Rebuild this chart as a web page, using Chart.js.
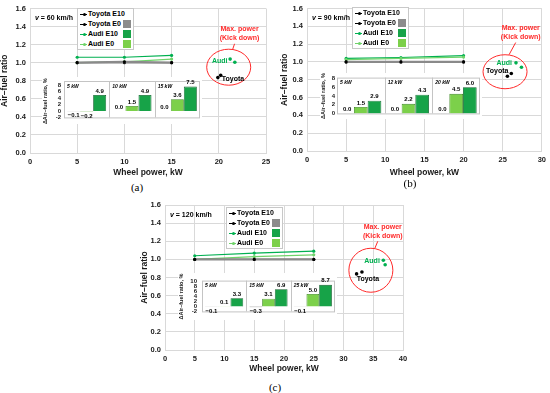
<!DOCTYPE html>
<html>
<head>
<meta charset="utf-8">
<script src="https://cdn.jsdelivr.net/npm/chart.js@4.4.1/dist/chart.umd.min.js"></script>
<style>
  body { margin: 0; background: #fff; }
  #fig { position: relative; width: 550px; height: 393px; overflow: hidden; font-family: 'Liberation Sans', Arial, sans-serif; }
  .c { position: absolute; }
  .cap { position: absolute; transform: translate(-50%, -50%); font-family: 'Liberation Serif', 'DejaVu Serif', serif; font-size: 11px; }
  .leg { position: absolute; width: 55px; height: 40px; background: #fff; border: 1px solid #c8c8c8; font-weight: bold; font-size: 7px; }
  .leg .row { position: absolute; left: 0; height: 10px; width: 100%; }
  .leg .ln { position: absolute; left: 2px; top: 4.5px; width: 7px; height: 1px; }
  .leg .dot { position: absolute; left: 4.5px; top: 3.5px; width: 3px; height: 3px; border-radius: 50%; }
  .leg .tx { position: absolute; left: 10px; top: 0; line-height: 10px; white-space: nowrap; }
  .leg .sq { position: absolute; left: 45px; top: 1px; width: 8px; height: 8px; box-sizing: border-box; }
</style>
</head>
<body>
<div id="fig">
  <canvas id="mainA" class="c" width="275" height="180" style="left:0;top:0"></canvas>
  <canvas id="mainB" class="c" width="270" height="180" style="left:280px;top:0"></canvas>
  <canvas id="mainC" class="c" width="280" height="181" style="left:140px;top:195px"></canvas>
  <canvas id="insetA" class="c" width="160" height="47" style="left:42px;top:77px"></canvas>
  <canvas id="insetB" class="c" width="162" height="46" style="left:320px;top:73px"></canvas>
  <canvas id="insetC" class="c" width="159" height="47" style="left:178px;top:273px"></canvas>
  <div class="cap" style="left:137px;top:187px">(a)</div>
  <div class="cap" style="left:410px;top:183px">(b)</div>
  <div class="cap" style="left:275px;top:387px">(c)</div>
</div>
<script>
Chart.defaults.font.family = "'Liberation Sans', Arial, sans-serif";
Chart.defaults.color = '#1a1a1a';
Chart.defaults.animation = false;

// --- (a) v = 60 km/h ---
const powerA = [5, 10, 15];
const toyotaE10A = [1.00, 1.00, 1.00];
const toyotaE0A = [1.00, 1.01, 1.00];
const audiE10A = [1.06, 1.06, 1.08];
const audiE0A = [1.00, 1.01, 1.04];
const kickToyotaA = [[19.9, 0.835], [20.2, 0.86]];
const kickAudiA = [[21.2, 1.04], [21.7, 1.005]];
const stepsA = ['5 kW', '10 kW', '15 kW'];
const dToyotaA = [-0.1, 0.0, 0.0];
const dAudiE0A = [-0.2, 1.5, 3.6];
const dAudiE10A = [4.9, 4.9, 7.5];

// --- (b) v = 90 km/h ---
const powerB = [5, 12, 20];
const toyotaE10B = [1.00, 1.00, 1.00];
const toyotaE0B = [1.00, 1.00, 1.00];
const audiE10B = [1.04, 1.05, 1.07];
const audiE0B = [1.025, 1.04, 1.055];
const kickToyotaB = [[25.6, 0.84], [26.1, 0.87]];
const kickAudiB = [[26.7, 0.99], [27.4, 0.94]];
const stepsB = ['5 kW', '12 kW', '20 kW'];
const dToyotaB = [0.0, 0.0, 0.0];
const dAudiE0B = [1.5, 2.2, 4.5];
const dAudiE10B = [2.9, 4.3, 6.0];

// --- (c) v = 120 km/h ---
const powerC = [5, 15, 25];
const toyotaE10C = [1.00, 1.00, 1.00];
const toyotaE0C = [1.00, 1.00, 1.00];
const audiE10C = [1.04, 1.07, 1.09];
const audiE0C = [1.00, 1.03, 1.05];
const kickToyotaC = [[32.2, 0.84], [33.1, 0.86]];
const kickAudiC = [[36.7, 0.99], [37.0, 0.94]];
const stepsC = ['5 kW', '15 kW', '25 kW'];
const dToyotaC = [-0.1, -0.3, -0.1];
const dAudiE0C = [0.1, 3.1, 5.0];
const dAudiE10C = [3.3, 6.9, 8.7];

const COL = {
  toyota: '#000000', toyotaE0: '#8a8a8a',
  audiE10: '#00b050', audiE0: '#6fd36a',
  barGray: '#8c8c8c', barLight: '#7cd04a', barDark: '#17a348', red: '#ff2a2a'
};

const xy = (xs, ys) => xs.map((v, i) => ({ x: v, y: ys[i] }));
const pts = arr => arr.map(p => ({ x: p[0], y: p[1] }));

const whiteBg = {
  id: 'whiteBg',
  beforeDraw(chart) {
    const ctx = chart.ctx;
    ctx.save(); ctx.fillStyle = '#fff'; ctx.fillRect(0, 0, chart.width, chart.height); ctx.restore();
  }
};

// ellipse round the kick-down points + texts
const kickPlugin = {
  id: 'kick',
  afterDraw(chart, args, o) {
    if (!o.ellipse) return;
    const { ctx, chartArea, scales: { x, y } } = chart;
    ctx.save();
    const ex = x.getPixelForValue(o.ellipse.x), ey = y.getPixelForValue(o.ellipse.y);
    ctx.strokeStyle = COL.red; ctx.lineWidth = 1;
    ctx.beginPath(); ctx.ellipse(ex, ey, o.ellipse.rx, o.ellipse.ry, 0, 0, Math.PI * 2); ctx.stroke();

    const nx = x.getPixelForValue(o.note.x), ny = y.getPixelForValue(o.note.y);
    ctx.fillStyle = COL.red; ctx.font = "bold 7px 'Liberation Sans'";
    ctx.textAlign = 'center'; ctx.textBaseline = 'middle';
    ctx.fillText('Max. power', nx, ny - 4.5);
    ctx.fillText('(Kick down)', nx, ny + 4.5);
    ctx.beginPath(); ctx.moveTo(nx - 5, ny + 10); ctx.lineTo(ex + 4, ey - o.ellipse.ry); ctx.stroke();

    ctx.font = "bold 7px 'Liberation Sans'";
    ctx.fillStyle = COL.audiE10;
    ctx.fillText('Audi', x.getPixelForValue(o.audi.x), y.getPixelForValue(o.audi.y));
    ctx.fillStyle = '#000';
    ctx.fillText('Toyota', x.getPixelForValue(o.toyota.x), y.getPixelForValue(o.toyota.y));

    ctx.textAlign = 'left';
    let sx = chartArea.left + 5;
    const sy = chartArea.top + 10;
    ctx.font = "italic bold 7px 'Liberation Sans'";
    ctx.fillText('v', sx, sy);
    sx += ctx.measureText('v').width;
    ctx.font = "bold 7px 'Liberation Sans'";
    ctx.fillText(' = ' + o.speed + ' km/h', sx, sy);
    ctx.restore();
  }
};

// panel boxes, panel names and bar values of the inset
const panelPlugin = {
  id: 'panels',
  beforeDatasetsDraw(chart, args, o) {
    const { ctx, chartArea: a } = chart;
    const labels = chart.data.labels;
    const w = (a.right - a.left) / labels.length;
    const top = a.top - (o.gap || 0);
    ctx.save();
    ctx.strokeStyle = '#c4c4c4'; ctx.lineWidth = 1;
    ctx.strokeRect(a.left + 0.5, top + 0.5, a.right - a.left - 1, a.bottom - top);
    ctx.beginPath();
    for (let i = 1; i < labels.length; i++) {
      const px = Math.round(a.left + i * w) + 0.5;
      ctx.moveTo(px, top); ctx.lineTo(px, a.bottom);
    }
    ctx.stroke();
    ctx.fillStyle = '#000'; ctx.font = "italic bold 5px 'Liberation Sans'";
    ctx.textAlign = 'left'; ctx.textBaseline = 'top';
    labels.forEach((l, i) => ctx.fillText(l, a.left + i * w + 3, top + 3));
    ctx.restore();
  },
  afterDatasetsDraw(chart) {
    const ctx = chart.ctx;
    ctx.save();
    ctx.fillStyle = '#000'; ctx.font = "bold 6px 'Liberation Sans'"; ctx.textAlign = 'center';
    chart.data.datasets.forEach((ds, di) => {
      chart.getDatasetMeta(di).data.forEach((bar, i) => {
        const v = ds.data[i];
        const txt = (v < 0 ? '−' : '') + Math.abs(v).toFixed(1);
        if (v < 0) { ctx.textBaseline = 'top'; ctx.fillText(txt, bar.x, bar.y + 1.5); }
        else { ctx.textBaseline = 'bottom'; ctx.fillText(txt, bar.x, bar.y - 1); }
      });
    });
    ctx.restore();
  }
};

function mainChart(id, c) {
  const lineDs = (label, data, color, width, ptColor) => ({
    label, data, borderColor: color, borderWidth: width, backgroundColor: ptColor,
    pointRadius: 1.6, pointBackgroundColor: ptColor, pointBorderWidth: 0
  });
  return new Chart(document.getElementById(id), {
    type: 'line',
    data: {
      datasets: [
        lineDs('Toyota E0', xy(c.power, c.toyotaE0), COL.toyotaE0, 2.2, '#000'),
        lineDs('Toyota E10', xy(c.power, c.toyotaE10), COL.toyota, 1, '#000'),
        lineDs('Audi E0', xy(c.power, c.audiE0), COL.audiE0, 1.2, COL.audiE0),
        lineDs('Audi E10', xy(c.power, c.audiE10), COL.audiE10, 1.2, COL.audiE10),
        { type: 'scatter', label: 'Toyota kick', data: pts(c.kickToyota), pointRadius: 1.8, pointBackgroundColor: '#000', pointBorderWidth: 0, showLine: false },
        { type: 'scatter', label: 'Audi kick', data: pts(c.kickAudi), pointRadius: 1.8, pointBackgroundColor: COL.audiE10, pointBorderWidth: 0, showLine: false }
      ]
    },
    options: {
      responsive: false,
      layout: { padding: { top: c.padTop, right: c.padRight, left: 0, bottom: 0 } },
      plugins: { legend: { display: false }, tooltip: { enabled: false }, kick: c.kick },
      scales: {
        x: {
          type: 'linear', min: 0, max: c.xMax,
          ticks: { stepSize: 5, font: { size: 7.5, weight: 'bold' }, padding: 4 },
          grid: { color: '#d9d9d9', drawTicks: false }, border: { color: '#d9d9d9' },
          title: { display: true, text: 'Wheel power, kW', font: { size: 8.5, weight: 'bold' }, padding: { top: 0, bottom: 2 } },
          afterFit: s => { s.height = c.xH; }
        },
        y: {
          min: 0, max: 1.6,
          ticks: { stepSize: 0.2, callback: v => v.toFixed(1), font: { size: 7.5, weight: 'bold' }, padding: 4 },
          grid: { color: '#d9d9d9', drawTicks: false }, border: { color: '#d9d9d9' },
          title: { display: true, text: 'Air–fuel ratio', font: { size: 8.5, weight: 'bold' }, padding: { top: 0, bottom: 0 } },
          afterFit: s => { s.width = c.yW; }
        }
      }
    },
    plugins: [whiteBg, kickPlugin]
  });
}

function insetChart(id, c) {
  const barDs = (label, data, bg, bd) => ({ label, data, backgroundColor: bg, borderColor: bd, borderWidth: 0.8 });
  const h = document.getElementById(id).height;
  return new Chart(document.getElementById(id), {
    type: 'bar',
    data: {
      labels: c.steps,
      datasets: [
        barDs('Toyota', c.dToyota, COL.barGray, '#5a5a5a'),
        barDs('Audi E0', c.dAudiE0, COL.barLight, '#3f8a25'),
        barDs('Audi E10', c.dAudiE10, COL.barDark, '#0b5e28')
      ]
    },
    options: {
      responsive: false,
      layout: { padding: { top: c.padTop, right: 2, left: 0, bottom: h - c.bottom } },
      datasets: { bar: { categoryPercentage: 0.86, barPercentage: 1.0 } },
      plugins: { legend: { display: false }, tooltip: { enabled: false }, panels: { gap: c.gap } },
      scales: {
        x: { ticks: { display: false }, grid: { display: false, drawTicks: false }, border: { display: false } },
        y: {
          min: c.yMin, max: c.yMax,
          ticks: { stepSize: 2, autoSkip: false, font: { size: 6, weight: 'bold' }, padding: c.tickPad },
          grid: { display: false, drawTicks: false }, border: { display: false },
          title: { display: true, text: 'ΔAir–fuel ratio, %', font: { size: 5.5, weight: 'bold' }, padding: { top: 0, bottom: 0 } },
          afterFit: s => { s.width = c.yW; }
        }
      }
    },
    plugins: [whiteBg, panelPlugin]
  });
}

function legend(left, top) {
  const rows = [
    ['Toyota E10', COL.toyota, '#000', null],
    ['Toyota E0', COL.toyota, '#000', COL.barGray],
    ['Audi E10', COL.audiE10, COL.audiE10, COL.barDark],
    ['Audi E0', COL.audiE0, COL.audiE0, COL.barLight]
  ];
  const box = document.createElement('div');
  box.className = 'leg';
  box.style.left = left + 'px'; box.style.top = top + 'px';
  rows.forEach((r, i) => {
    box.insertAdjacentHTML('beforeend',
      `<div class="row" style="top:${i * 10}px">
        <div class="ln" style="background:${r[1]}"></div>
        <div class="dot" style="background:${r[2]}"></div>
        <div class="tx">${r[0]}</div>
        ${r[3] ? `<div class="sq" style="background:${r[3]}"></div>` : ''}
      </div>`);
  });
  document.getElementById('fig').appendChild(box);
}

mainChart('mainA', {
  power: powerA, toyotaE10: toyotaE10A, toyotaE0: toyotaE0A, audiE10: audiE10A, audiE0: audiE0A,
  kickToyota: kickToyotaA, kickAudi: kickAudiA, xMax: 25, yW: 30, xH: 27, padTop: 6, padRight: 9,
  kick: { speed: '60', ellipse: { x: 21.05, y: 0.95, rx: 22, ry: 18 }, note: { x: 22.2, y: 1.32 },
          audi: { x: 20.1, y: 1.02 }, toyota: { x: 21.5, y: 0.82 } }
});
mainChart('mainB', {
  power: powerB, toyotaE10: toyotaE10B, toyotaE0: toyotaE0B, audiE10: audiE10B, audiE0: audiE0B,
  kickToyota: kickToyotaB, kickAudi: kickAudiB, xMax: 30, yW: 27, xH: 29, padTop: 6, padRight: 6,
  kick: { speed: '90', ellipse: { x: 25.3, y: 0.89, rx: 22, ry: 17 }, note: { x: 27.3, y: 1.33 },
          audi: { x: 25.2, y: 0.99 }, toyota: { x: 24.3, y: 0.9 } }
});
mainChart('mainC', {
  power: powerC, toyotaE10: toyotaE10C, toyotaE0: toyotaE0C, audiE10: audiE10C, audiE0: audiE0C,
  kickToyota: kickToyotaC, kickAudi: kickAudiC, xMax: 40, yW: 25, xH: 26, padTop: 10, padRight: 17,
  kick: { speed: '120', ellipse: { x: 34.6, y: 0.88, rx: 22, ry: 22 }, note: { x: 36.6, y: 1.31 },
          audi: { x: 34.8, y: 0.98 }, toyota: { x: 34.1, y: 0.78 } }
});

insetChart('insetA', { steps: stepsA, dToyota: dToyotaA, dAudiE0: dAudiE0A, dAudiE10: dAudiE10A, yMin: -2, yMax: 8, yW: 22, tickPad: 3, padTop: 8, bottom: 44, gap: 4 });
insetChart('insetB', { steps: stepsB, dToyota: dToyotaB, dAudiE0: dAudiE0B, dAudiE10: dAudiE10B, yMin: 0, yMax: 8, yW: 17, tickPad: 2, padTop: 4, bottom: 43, gap: 1 });
insetChart('insetC', { steps: stepsC, dToyota: dToyotaC, dAudiE0: dAudiE0C, dAudiE10: dAudiE10C, yMin: -2, yMax: 10, yW: 24, tickPad: 5, padTop: 4, bottom: 44, gap: 1 });

legend(77, 8);
legend(352, 7);
legend(226, 207);
</script>
</body>
</html>
